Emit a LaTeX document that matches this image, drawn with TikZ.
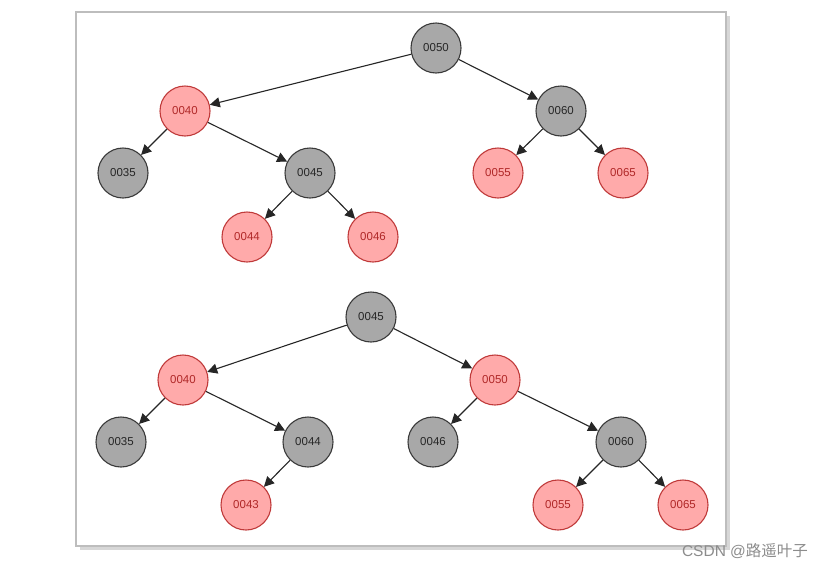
\documentclass[tikz,border=0pt]{standalone}
\usepackage{fontspec}
\setmainfont{Liberation Sans}
\newfontfamily\cjkfont{Noto Sans CJK SC}
\usetikzlibrary{arrows.meta, positioning}
\definecolor{rbgray}{HTML}{A8A8A8}
\definecolor{rbgrayline}{HTML}{3A3A3A}
\definecolor{rbred}{HTML}{FFAAAA}
\definecolor{rbredline}{HTML}{C03A3A}
\definecolor{rbredtext}{HTML}{B02828}
\definecolor{rbframe}{HTML}{BDBDBD}

\begin{document}
\begin{tikzpicture}[
  x=1pt, y=-1pt,
  every node/.style={circle, minimum size=50pt, inner sep=0pt, line width=1.1pt, font=\fontsize{11.5}{12}\selectfont},
  blacknode/.style={draw=rbgrayline, fill=rbgray, text=black!85},
  rednode/.style={draw=rbredline, fill=rbred, text=rbredtext},
  link/.style={-{Triangle[length=10pt, width=10pt]}, line width=1.1pt, black!85}
]
\useasboundingbox (0,0) rectangle (829,568);
% frame with shadow
\fill[rbframe!60] (80,16) rectangle (730,550);
\draw[rbframe, fill=white, line width=1.6pt] (76,12) rectangle (726,546);

% first tree
\node[blacknode] (a50) at (436,48)  {0050};
\node[rednode]   (a40) at (185,111) {0040};
\node[blacknode] (a60) at (561,111) {0060};
\node[blacknode] (a35) at (123,173) {0035};
\node[blacknode] (a45) at (310,173) {0045};
\node[rednode]   (a55) at (498,173) {0055};
\node[rednode]   (a65) at (623,173) {0065};
\node[rednode]   (a44) at (247,237) {0044};
\node[rednode]   (a46) at (373,237) {0046};

% second tree
\node[blacknode] (b45) at (371,317) {0045};
\node[rednode]   (b40) at (183,380) {0040};
\node[rednode]   (b50) at (495,380) {0050};
\node[blacknode] (b35) at (121,442) {0035};
\node[blacknode] (b44) at (308,442) {0044};
\node[blacknode] (b46) at (433,442) {0046};
\node[blacknode] (b60) at (621,442) {0060};
\node[rednode]   (b43) at (246,505) {0043};
\node[rednode]   (b55) at (558,505) {0055};
\node[rednode]   (b65) at (683,505) {0065};

\foreach \p/\c in {a50/a40, a50/a60, a40/a35, a40/a45, a45/a44, a45/a46, a60/a55, a60/a65,
                   b45/b40, b45/b50, b40/b35, b40/b44, b44/b43, b50/b46, b50/b60, b60/b55, b60/b65}
  \draw[link] (\p) -- (\c);

% watermark
\node[rectangle, minimum size=0pt, inner sep=0pt, font=\fontsize{15.5}{16}\selectfont, text=black!45] (mark) at (745,551) {CSDN @{\cjkfont 路遥叶子}};
\end{tikzpicture}
\end{document}
